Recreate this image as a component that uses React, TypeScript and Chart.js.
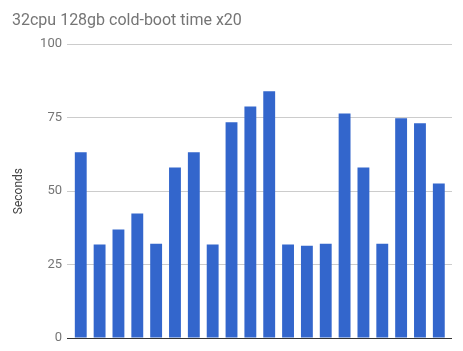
import React, { useEffect, useRef } from "react";
import { Chart, registerables } from "chart.js";

Chart.register(...registerables);

const runs: number[] = [1, 2, 3, 4, 5, 6, 7, 8, 9, 10, 11, 12, 13, 14, 15, 16, 17, 18, 19, 20];
const seconds: number[] = [63.2, 31.8, 36.9, 42.4, 32.1, 58.0, 63.2, 31.8, 73.4, 78.8, 84.0, 31.8, 31.4, 32.1, 76.4, 58.0, 32.1, 74.8, 73.1, 52.6];
const yTicks: number[] = [0, 25, 50, 75, 100];
const titleText = "32cpu 128gb cold-boot time x20";
const yTitle = "Seconds";

export default function App() {
  const ref = useRef<HTMLCanvasElement | null>(null);
  useEffect(() => {
    if (!ref.current) return;
    const chart = new Chart(ref.current, {
      type: "bar",
      data: {
        datasets: [
          {
            label: yTitle,
            data: runs.map((r, i) => ({ x: i, y: seconds[i] })),
            backgroundColor: "#3366cc",
            borderWidth: 0,
            barPercentage: 0.63,
            categoryPercentage: 1,
          },
        ],
      },
      options: {
        animation: false,
        responsive: false,
        maintainAspectRatio: false,
        layout: { padding: { left: 12, right: 11, top: 0, bottom: 13 } },
        plugins: {
          legend: { display: false },
          tooltip: { enabled: false },
          title: {
            display: true,
            text: titleText,
            align: "start",
            color: "#757575",
            font: { family: "Roboto", size: 16, weight: "normal" },
            padding: { top: 11, bottom: 14 },
          },
        },
        scales: {
          x: {
            type: "linear",
            display: false,
            offset: false,
            grid: { offset: false },
            min: -0.73,
            max: 19.7,
          },
          y: {
            min: 0,
            max: 100,
            afterBuildTicks: (scale: any) => {
              scale.ticks = yTicks.map((v) => ({ value: v }));
            },
            afterFit: (scale: any) => {
              scale.width = 55;
            },
            border: { display: false },
            grid: {
              drawTicks: false,
              color: (ctx: any) => (ctx.tick && ctx.tick.value === 0 ? "#333333" : "#cccccc"),
              lineWidth: 1,
            },
            ticks: {
              padding: 5,
              color: "#757575",
              font: { family: "Roboto", size: 13 },
            },
            title: {
              display: true,
              text: yTitle,
              color: "#444444",
              font: { family: "Roboto", size: 12 },
              padding: { top: 0, bottom: 0 },
            },
          },
        },
      },
    });
    return () => chart.destroy();
  }, []);
  return (
    <div style={{ position: "fixed", left: 0, top: 0, width: 463, height: 351, background: "#fff" }}>
      <canvas ref={ref} width={463} height={351} style={{ width: 463, height: 351 }} />
    </div>
  );
}
